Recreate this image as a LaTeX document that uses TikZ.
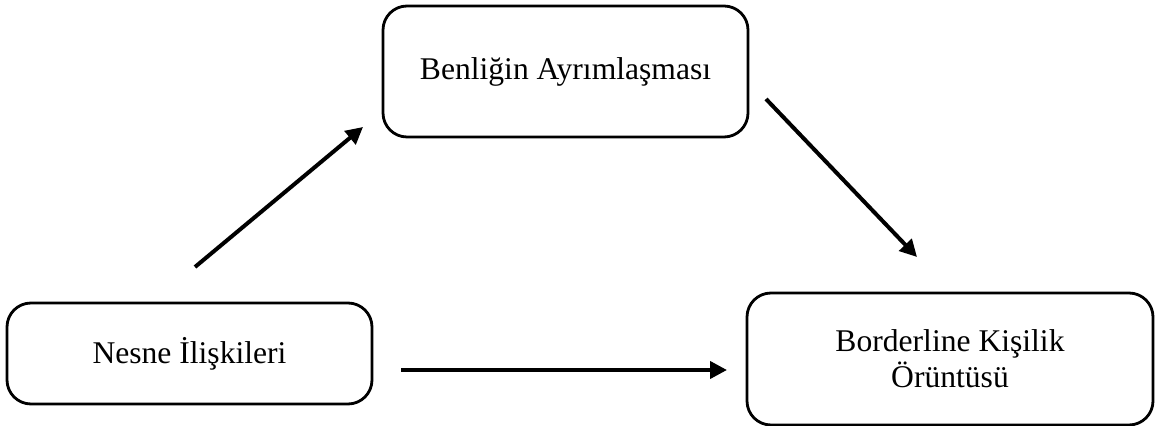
\documentclass[tikz,border=0pt]{standalone}
\usepackage{fontspec}
\setmainfont{Liberation Serif}
\usetikzlibrary{arrows.meta}
\begin{document}
\begin{tikzpicture}[x=0.5pt,y=-0.5pt,
  box/.style={draw,line width=1.4pt,rounded corners=12pt,align=center,inner sep=0pt,font=\fontsize{15.8}{18}\selectfont},
  arr/.style={line width=2pt,-{Triangle[length=8.5pt,width=8.5pt]}}]
\useasboundingbox (0,0) rectangle (1165,426);
\node[box,minimum width=182.5pt,minimum height=65.5pt] (top) at (565.5,71.5) {Benliğin Ayrımlaşması};
\node[box,minimum width=182.5pt,minimum height=50.5pt] (left) at (189.5,353.5) {Nesne İlişkileri};
\node[box,minimum width=203pt,minimum height=66pt] (right) at (950,359) {\rule{0pt}{4pt}Borderline Kişilik\\Örüntüsü};
\coordinate (a1s) at (195,267);
\coordinate (a1e) at (363,127);
\coordinate (a2s) at (766,99);
\coordinate (a2e) at (917,257);
\coordinate (a3s) at (401,370);
\coordinate (a3e) at (727,370);
\draw[arr] (a1s) -- (a1e);
\draw[arr] (a2s) -- (a2e);
\draw[arr] (a3s) -- (a3e);
\end{tikzpicture}
\end{document}
